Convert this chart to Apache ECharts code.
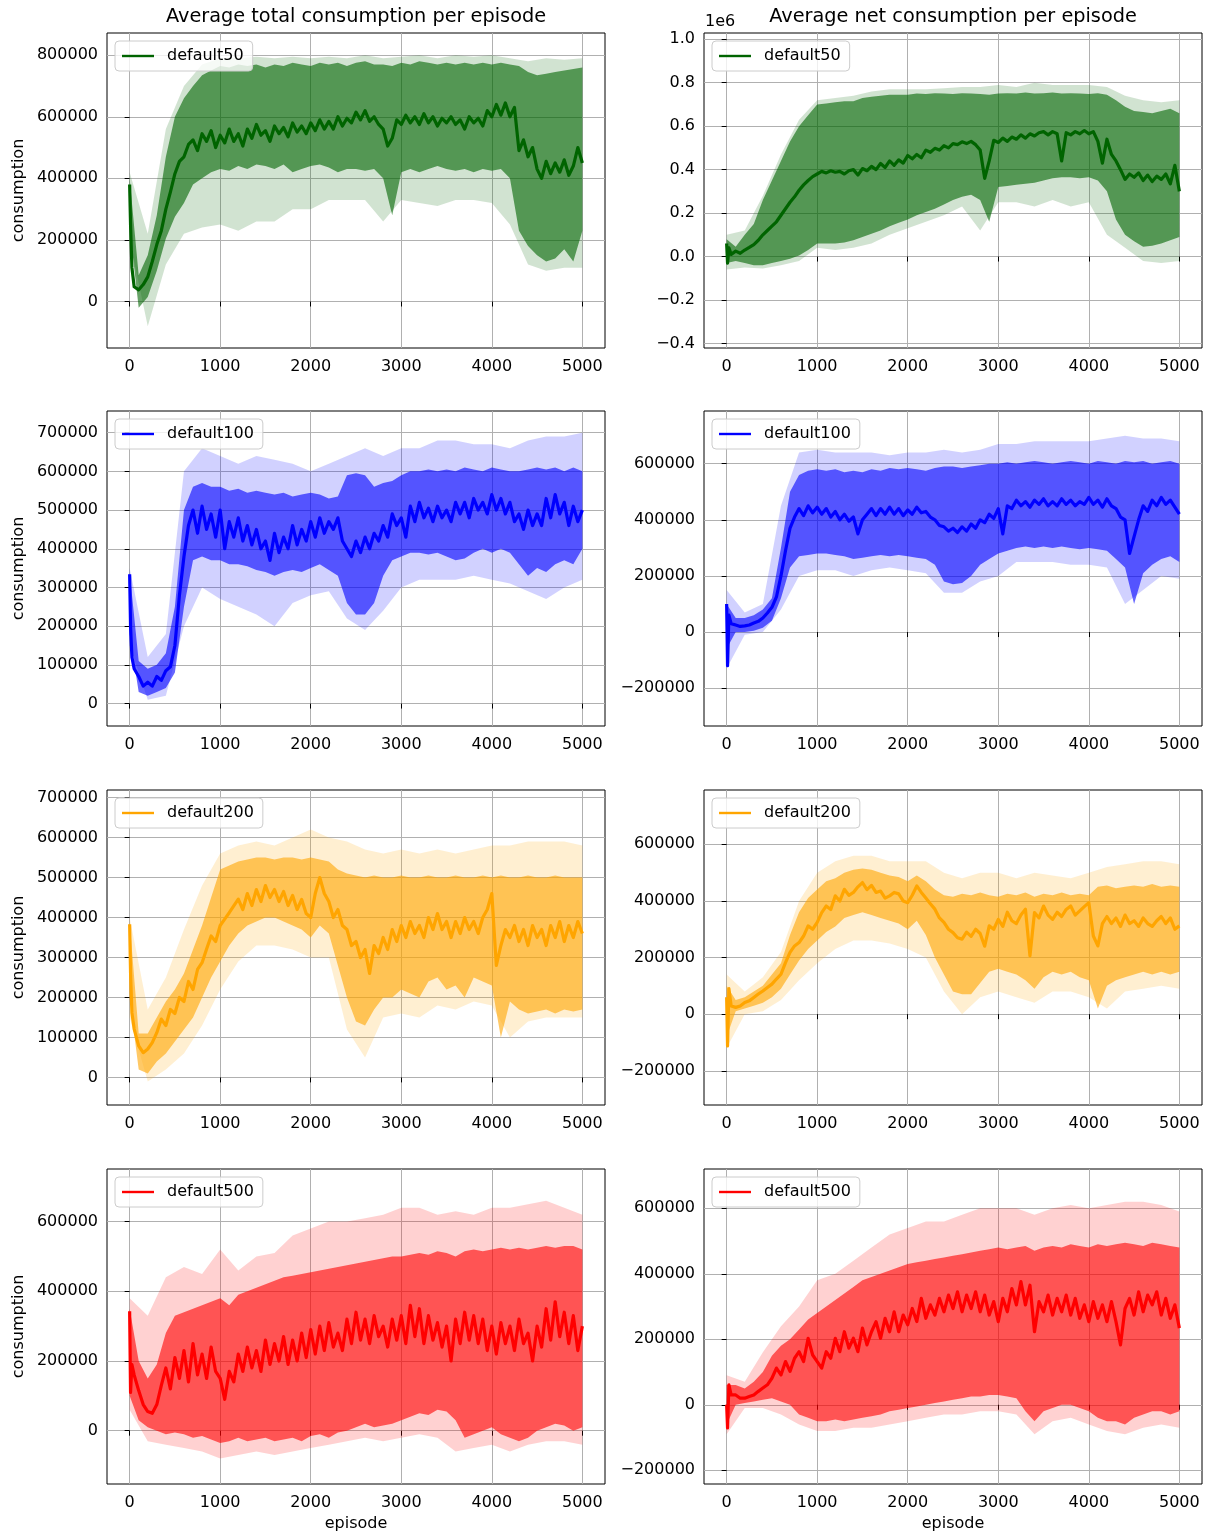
<!DOCTYPE html>
<html>
<head>
<meta charset="utf-8">
<script src="https://cdn.jsdelivr.net/npm/echarts@6/dist/echarts.min.js"></script>
<style>
  html, body { margin: 0; padding: 0; background: #fff; }
  #chart { width: 1214px; height: 1537px; }
</style>
</head>
<body>
<div id="chart"></div>
<script>
// episodes for the mean curves and for the shaded bands
const EP_MEAN = [0, 10, 25, 50, 100, 150, 200, 250, 300, 350, 400, 450, 500, 550, 600, 650, 700, 750, 800, 850, 900, 950, 1000,
  1050, 1100, 1150, 1200, 1250, 1300, 1350, 1400, 1450, 1500, 1550, 1600, 1650, 1700, 1750, 1800, 1850, 1900, 1950, 2000,
  2050, 2100, 2150, 2200, 2250, 2300, 2350, 2400, 2450, 2500, 2550, 2600, 2650, 2700, 2750, 2800, 2850, 2900, 2950, 3000,
  3050, 3100, 3150, 3200, 3250, 3300, 3350, 3400, 3450, 3500, 3550, 3600, 3650, 3700, 3750, 3800, 3850, 3900, 3950, 4000,
  4050, 4100, 4150, 4200, 4250, 4300, 4350, 4400, 4450, 4500, 4550, 4600, 4650, 4700, 4750, 4800, 4850, 4900, 4950, 5000];
const EP_BAND = [0, 100, 200, 300, 400, 500, 600, 700, 800, 900, 1000, 1100, 1200, 1300, 1400, 1500, 1600, 1700, 1800, 1900,
  2000, 2100, 2200, 2300, 2400, 2500, 2600, 2700, 2800, 2900, 3000, 3100, 3200, 3300, 3400, 3500, 3600, 3700, 3800, 3900,
  4000, 4100, 4200, 4300, 4400, 4500, 4600, 4700, 4800, 4900, 5000];
const EP_FAINT = [0, 200, 400, 600, 800, 1000, 1200, 1400, 1600, 1800, 2000, 2200, 2400, 2600, 2800, 3000, 3200, 3400, 3600,
  3800, 4000, 4200, 4400, 4600, 4800, 5000];

// all consumption values below are in thousands
// default50, total
const mean50Total = [380, 250, 110,
  48, 38, 55, 80, 130, 185, 230, 300, 355, 415, 455, 470, 510, 525, 490, 545, 520, 555, 500, 540,
  515, 560, 520, 545, 505, 560, 530, 575, 540, 555, 520, 570, 545, 565, 535, 580, 550, 570, 545, 580,
  555, 590, 560, 585, 560, 600, 570, 595, 580, 615, 590, 620, 585, 600, 575, 560, 505, 530, 590, 575,
  605, 580, 600, 575, 610, 580, 600, 570, 595, 580, 600, 575, 590, 560, 600, 580, 595, 570, 620, 600,
  640, 605, 645, 600, 630, 490, 525, 470, 500, 430, 400, 455, 415, 450, 420, 460, 410, 440, 500, 450];
const hi50Total = [400, 85, 150, 280, 470, 600, 660, 700, 735, 750, 765, 760, 770, 765, 770, 760, 770, 765, 775, 770,
  765, 775, 770, 775, 765, 775, 780, 770, 770, 765, 775, 770, 780, 775, 770, 775, 770, 775, 770, 775,
  770, 775, 770, 765, 745, 735, 740, 745, 750, 755, 760];
const lo50Total = [240, -20, 15, 100, 205, 275, 320, 380, 400, 420, 430, 425, 440, 430, 445, 440, 430, 445, 420, 430,
  440, 445, 435, 420, 430, 430, 425, 430, 400, 280, 420, 430, 420, 430, 440, 430, 425, 430, 420, 430,
  425, 430, 400, 230, 180, 150, 130, 140, 170, 130, 230];
const fhi50Total = [420, 220, 560, 700, 770, 790, 790, 795, 790, 795, 790, 795, 790, 800, 790, 795, 800, 790, 800, 795, 800, 790, 780, 790, 785, 790];
const flo50Total = [200, -80, 120, 220, 240, 250, 230, 260, 260, 300, 300, 330, 330, 330, 260, 330, 320, 310, 330, 330, 320, 250, 120, 100, 110, 110];

// default50, net
const mean50Net = [60, -30, 40,
  10, 25, 15, 30, 42, 55, 75, 100, 120, 140, 160, 190, 220, 250, 275, 305, 330, 350, 368, 380,
  392, 385, 395, 388, 392, 380, 395, 400, 375, 405, 395, 415, 400, 428, 410, 440, 420, 445, 430, 465,
  450, 470, 455, 490, 480, 498, 490, 510, 500, 520, 515, 528, 520, 530, 515, 490, 360, 440, 535, 525,
  545, 530, 550, 540, 560, 545, 565, 555, 570, 575, 560, 575, 565, 440, 570, 560, 575, 565, 580, 565,
  575, 530, 430, 540, 470, 440, 400, 355, 380, 365, 385, 350, 375, 345, 370, 355, 380, 335, 420, 300];
const hi50Net = [80, 45, 100, 150, 260, 350, 440, 530, 600, 650, 700, 705, 710, 715, 715, 730, 735, 740, 745, 745,
  745, 750, 748, 752, 750, 748, 752, 750, 748, 745, 750, 752, 750, 755, 750, 752, 755, 750, 752, 750,
  748, 752, 745, 720, 690, 670, 665, 660, 670, 680, 660];
const lo50Net = [-30, -20, -30, -40, -40, -30, -20, -10, 5, 30, 60, 60, 60, 65, 75, 90, 105, 120, 140, 155,
  170, 190, 205, 220, 240, 260, 275, 285, 260, 160, 320, 325, 330, 335, 340, 350, 360, 365, 365, 360,
  365, 350, 300, 170, 100, 70, 45, 50, 60, 75, 90];
const fhi50Net = [100, 120, 280, 470, 630, 720, 730, 740, 760, 770, 770, 770, 775, 780, 780, 790, 780, 800, 790, 790, 790, 780, 740, 720, 710, 720];
const flo50Net = [-60, -50, -55, -40, -20, 40, 30, 40, 60, 100, 130, 160, 190, 230, 120, 250, 250, 230, 260, 230, 250, 100, 40, -20, -30, -20];

// default100, total
const mean100Total = [334, 200, 120,
  90, 70, 45, 55, 45, 70, 60, 85, 95, 150, 280, 380, 460, 500, 440, 510, 450, 490, 430, 500,
  400, 470, 430, 480, 420, 460, 410, 450, 400, 420, 370, 440, 390, 430, 400, 460, 410, 450, 420, 470,
  430, 480, 440, 470, 450, 480, 420, 400, 380, 420, 390, 430, 400, 440, 420, 460, 430, 490, 460, 480,
  430, 510, 470, 520, 480, 505, 470, 510, 480, 500, 470, 520, 490, 520, 480, 530, 500, 520, 490, 540,
  500, 530, 490, 520, 470, 490, 450, 500, 460, 490, 460, 530, 480, 540, 490, 520, 460, 510, 470, 500];
const hi100Total = [340, 110, 90, 100, 130, 250, 500, 560, 570, 560, 560, 550, 555, 545, 550, 545, 540, 545, 535, 540,
  545, 540, 530, 535, 590, 595, 590, 560, 570, 575, 590, 600, 600, 605, 600, 605, 600, 610, 605, 600,
  610, 605, 600, 600, 605, 610, 605, 610, 600, 610, 600];
const lo100Total = [180, 30, 20, 30, 40, 80, 250, 370, 380, 370, 370, 360, 360, 355, 345, 340, 330, 340, 345, 340,
  350, 360, 345, 330, 260, 230, 230, 260, 330, 370, 380, 390, 390, 385, 390, 380, 370, 375, 390, 400,
  390, 400, 390, 360, 330, 350, 340, 360, 370, 360, 400];
const fhi100Total = [350, 120, 180, 600, 660, 640, 620, 640, 630, 620, 600, 620, 640, 660, 640, 660, 660, 680, 680, 670, 670, 660, 680, 690, 690, 700];
const flo100Total = [150, 10, 20, 200, 300, 270, 250, 230, 200, 260, 280, 290, 220, 190, 240, 300, 320, 320, 320, 330, 320, 310, 290, 270, 300, 320];

// default100, net
const mean100Net = [100, -120, 60,
  30, 25, 20, 22, 25, 32, 38, 50, 68, 88, 125, 200, 290, 370, 410, 440, 415, 450, 425, 445,
  420, 440, 410, 430, 400, 420, 395, 410, 350, 400, 420, 440, 415, 440, 420, 445, 420, 440, 415, 435,
  420, 445, 425, 430, 410, 400, 380, 375, 360, 370, 355, 375, 360, 385, 370, 400, 390, 420, 405, 440,
  350, 450, 440, 470, 450, 465, 445, 470, 455, 475, 450, 465, 450, 475, 455, 470, 450, 465, 455, 480,
  455, 470, 445, 475, 450, 440, 410, 400, 280, 340, 400, 450, 430, 470, 450, 480, 455, 470, 445, 420];
const hi100Net = [100, 50, 50, 60, 80, 120, 300, 500, 560, 575, 580, 575, 580, 570, 575, 570, 580, 575, 585, 580,
  585, 580, 575, 585, 590, 590, 585, 590, 595, 600, 600, 605, 600, 605, 610, 605, 600, 605, 610, 605,
  600, 610, 605, 600, 610, 605, 610, 600, 605, 610, 600];
const lo100Net = [-60, 0, 0, 5, 15, 40, 120, 230, 270, 275, 280, 280, 275, 270, 260, 265, 270, 275, 270, 275,
  270, 265, 260, 240, 180, 170, 175, 200, 240, 260, 280, 290, 300, 305, 300, 305, 300, 305, 300, 295,
  300, 295, 290, 260, 230, 100, 210, 240, 260, 270, 250];
const fhi100Net = [150, 70, 100, 450, 640, 650, 640, 640, 640, 630, 640, 640, 650, 640, 650, 670, 670, 680, 680, 680, 680, 690, 700, 690, 690, 680];
const flo100Net = [-130, -10, 0, 80, 200, 220, 220, 200, 220, 230, 220, 210, 140, 140, 180, 200, 250, 250, 250, 240, 240, 230, 100, 150, 200, 190];

// default200, total
const mean200Total = [383, 262, 162,
  121, 79, 62, 71, 87, 112, 146, 130, 170, 160, 200, 190, 240, 220, 270, 287, 321, 354, 340, 380,
  396, 412, 429, 446, 420, 460, 430, 470, 440, 480, 450, 470, 440, 465, 430, 455, 420, 445, 410, 400,
  460, 500, 460, 440, 400, 420, 380, 370, 330, 340, 300, 320, 260, 330, 310, 350, 320, 370, 340, 380,
  350, 390, 360, 380, 350, 400, 370, 410, 370, 390, 350, 390, 360, 400, 370, 390, 360, 400, 420, 460,
  280, 330, 370, 350, 380, 340, 370, 330, 380, 350, 370, 330, 380, 350, 390, 340, 380, 350, 390, 360];
const hi200Total = [390, 110, 110, 150, 190, 220, 260, 320, 380, 450, 520, 530, 540, 545, 550, 550, 545, 550, 550, 545,
  550, 545, 540, 520, 510, 505, 500, 505, 500, 500, 505, 500, 500, 505, 500, 500, 505, 500, 500, 505,
  500, 505, 500, 500, 505, 500, 500, 505, 500, 500, 500];
const lo200Total = [200, 20, 10, 40, 60, 90, 120, 150, 200, 250, 290, 330, 360, 380, 390, 400, 400, 390, 380, 370,
  350, 380, 360, 280, 200, 140, 130, 170, 200, 200, 220, 210, 200, 240, 250, 220, 230, 200, 250, 240,
  230, 100, 190, 170, 160, 165, 170, 160, 170, 165, 170];
const fhi200Total = [400, 170, 250, 370, 480, 560, 580, 590, 580, 600, 620, 600, 590, 570, 560, 570, 560, 570, 560, 570, 580, 580, 590, 590, 590, 580];
const flo200Total = [150, -10, 20, 60, 130, 220, 290, 330, 330, 320, 300, 300, 120, 50, 150, 160, 150, 180, 170, 190, 180, 100, 140, 150, 150, 150];

// default200, net
const mean200Net = [60, -112, 90,
  29, 24, 29, 41, 47, 59, 71, 82, 94, 106, 124, 141, 182, 218, 241, 253, 276, 312, 300, 324,
  359, 382, 370, 418, 400, 441, 420, 430, 450, 465, 440, 455, 430, 435, 410, 418, 430, 425, 400, 394,
  420, 453, 430, 410, 390, 371, 340, 324, 300, 288, 270, 265, 290, 275, 300, 285, 240, 312, 300, 335,
  310, 360, 330, 320, 350, 371, 206, 359, 340, 382, 350, 335, 360, 345, 370, 382, 350, 365, 380, 394,
  276, 241, 320, 345, 320, 340, 310, 350, 320, 330, 310, 340, 320, 310, 330, 345, 320, 340, 300, 312];
const hi200Net = [100, 50, 60, 80, 100, 140, 180, 280, 360, 410, 440, 470, 480, 500, 510, 515, 510, 500, 490, 485,
  470, 490, 470, 440, 420, 415, 425, 420, 430, 420, 415, 425, 420, 430, 415, 425, 420, 430, 420, 425,
  420, 450, 455, 445, 450, 455, 450, 460, 450, 455, 450];
const lo200Net = [-80, 10, 20, 30, 40, 60, 90, 140, 190, 230, 260, 290, 310, 340, 350, 360, 350, 340, 330, 320,
  300, 330, 280, 200, 140, 80, 70, 70, 110, 150, 160, 150, 140, 120, 90, 130, 150, 140, 150, 130,
  120, 20, 100, 120, 130, 140, 150, 140, 150, 140, 150];
const fhi200Net = [140, 80, 130, 220, 400, 500, 540, 560, 560, 540, 540, 540, 500, 480, 500, 500, 480, 500, 490, 480, 500, 520, 530, 540, 540, 530];
const flo200Net = [-120, 0, 10, 50, 120, 180, 230, 260, 260, 250, 230, 200, 80, 0, 60, 80, 60, 40, 80, 80, 60, 20, 80, 90, 100, 90];

// default500, total
const mean500Total = [343, 110, 190,
  160, 115, 75, 55, 50, 75, 130, 180, 120, 210, 150, 230, 140, 250, 160, 220, 150, 240, 170, 150,
  90, 170, 140, 220, 170, 240, 180, 230, 170, 260, 190, 250, 200, 270, 190, 260, 200, 280, 210, 290,
  220, 300, 230, 310, 240, 280, 230, 320, 250, 340, 260, 320, 250, 330, 270, 300, 240, 320, 260, 330,
  250, 360, 270, 350, 250, 330, 260, 310, 240, 300, 200, 320, 250, 340, 260, 330, 250, 320, 230, 300,
  220, 310, 250, 300, 230, 320, 250, 280, 200, 300, 240, 350, 260, 370, 270, 340, 250, 330, 230, 300];
const hi500Total = [350, 200, 150, 190, 280, 330, 340, 350, 360, 370, 380, 360, 390, 400, 410, 420, 430, 440, 445, 450,
  455, 460, 465, 470, 475, 480, 485, 490, 495, 500, 500, 505, 510, 505, 515, 510, 500, 515, 520, 515,
  520, 525, 520, 525, 520, 525, 530, 525, 530, 530, 520];
const lo500Total = [100, 30, 10, 0, -10, -5, -10, -20, -15, -25, -35, -30, -20, -30, -25, -20, -30, -25, -20, -30,
  -15, -10, -20, -5, 0, 10, 20, 10, 15, 20, 30, 40, 50, 45, 60, 55, 30, -20, -10, 0,
  10, -10, -20, -30, -20, 0, 10, 20, 15, 0, 10];
const fhi500Total = [380, 330, 440, 470, 450, 520, 460, 500, 510, 560, 580, 600, 600, 610, 620, 640, 640, 620, 630, 620, 640, 640, 650, 660, 640, 620];
const flo500Total = [60, -30, -40, -50, -60, -80, -70, -60, -70, -60, -50, -40, -30, -20, -30, -20, -10, -20, -60, -50, -40, -60, -40, -30, -30, -40];

// default500, net
const mean500Net = [0, -71, 61,
  30, 30, 20, 20, 25, 30, 41, 51, 61, 81, 112, 91, 132, 102, 142, 162, 132, 203, 152, 132,
  112, 162, 142, 203, 162, 223, 173, 203, 162, 234, 183, 223, 254, 203, 264, 223, 284, 223, 274, 244,
  294, 254, 325, 264, 305, 274, 325, 284, 335, 294, 345, 284, 335, 294, 345, 284, 335, 274, 315, 254,
  325, 284, 355, 305, 376, 305, 365, 223, 315, 284, 335, 274, 325, 284, 335, 274, 325, 264, 305, 254,
  315, 264, 305, 254, 315, 254, 183, 294, 325, 274, 345, 284, 335, 305, 345, 274, 325, 264, 305, 234];
const hi500Net = [60, 60, 50, 70, 100, 150, 180, 200, 230, 260, 280, 300, 320, 340, 360, 380, 390, 400, 410, 420,
  430, 435, 440, 445, 450, 455, 460, 465, 470, 475, 480, 475, 480, 485, 470, 480, 485, 480, 490, 485,
  480, 490, 485, 490, 495, 490, 485, 495, 490, 485, 480];
const lo500Net = [-60, 0, 5, 10, 15, 20, 10, 0, -30, -40, -50, -50, -45, -50, -45, -40, -35, -30, -20, -15,
  -10, -5, 0, 5, 10, 15, 20, 25, 25, 30, 30, 25, 20, -20, -50, -20, -10, 0, 0, -10,
  -20, -40, -50, -50, -60, -40, -30, -20, -20, -30, -20];
const fhi500Net = [90, 70, 160, 240, 300, 380, 400, 440, 480, 520, 540, 560, 560, 580, 600, 600, 600, 580, 600, 610, 600, 610, 620, 620, 610, 590];
const flo500Net = [-90, -10, -10, -30, -60, -80, -80, -70, -70, -60, -50, -40, -30, -30, -20, -20, -30, -90, -50, -40, -60, -80, -90, -70, -60, -70];

// tick labels
const X_TICKS = [0, 1000, 2000, 3000, 4000, 5000];
const Y_TICKS_800 = [0, 200000, 400000, 600000, 800000];
const Y_TICKS_1E6 = [-400000, -200000, 0, 200000, 400000, 600000, 800000, 1000000];
const Y_TICKS_700 = [0, 100000, 200000, 300000, 400000, 500000, 600000, 700000];
const Y_TICKS_NET = [-200000, 0, 200000, 400000, 600000];
const Y_TICKS_600 = [0, 200000, 400000, 600000];

const TITLES = ['Average total consumption per episode', 'Average net consumption per episode'];

const panels = [
  { name: 'default50', color: '#006400', rgb: '0,100,0', col: 0, row: 0, mean: mean50Total, hi: hi50Total, lo: lo50Total, fhi: fhi50Total, flo: flo50Total, min: -151000, max: 872000, ticks: Y_TICKS_800 },
  { name: 'default50', color: '#006400', rgb: '0,100,0', col: 1, row: 0, mean: mean50Net, hi: hi50Net, lo: lo50Net, fhi: fhi50Net, flo: flo50Net, min: -421000, max: 1029000, ticks: Y_TICKS_1E6, sci: true },
  { name: 'default100', color: '#0000ff', rgb: '0,0,255', col: 0, row: 1, mean: mean100Total, hi: hi100Total, lo: lo100Total, fhi: fhi100Total, flo: flo100Total, min: -58000, max: 756000, ticks: Y_TICKS_700 },
  { name: 'default100', color: '#0000ff', rgb: '0,0,255', col: 1, row: 1, mean: mean100Net, hi: hi100Net, lo: lo100Net, fhi: fhi100Net, flo: flo100Net, min: -335000, max: 788000, ticks: Y_TICKS_NET },
  { name: 'default200', color: '#ffa500', rgb: '255,165,0', col: 0, row: 2, mean: mean200Total, hi: hi200Total, lo: lo200Total, fhi: fhi200Total, flo: flo200Total, min: -69000, max: 719000, ticks: Y_TICKS_700 },
  { name: 'default200', color: '#ffa500', rgb: '255,165,0', col: 1, row: 2, mean: mean200Net, hi: hi200Net, lo: lo200Net, fhi: fhi200Net, flo: flo200Net, min: -321000, max: 792000, ticks: Y_TICKS_NET },
  { name: 'default500', color: '#ff0000', rgb: '255,0,0', col: 0, row: 3, mean: mean500Total, hi: hi500Total, lo: lo500Total, fhi: fhi500Total, flo: flo500Total, min: -153000, max: 751000, ticks: Y_TICKS_600 },
  { name: 'default500', color: '#ff0000', rgb: '255,0,0', col: 1, row: 3, mean: mean500Net, hi: hi500Net, lo: lo500Net, fhi: fhi500Net, flo: flo500Net, min: -242000, max: 720000, ticks: Y_TICKS_NET }
];

const FONT = 'DejaVu Sans';
const GRID_LEFT = [107, 704];
const GRID_TOP = [33, 411, 790, 1169];
const GRID_W = 498;
const GRID_H = 315;

function minus(s) {
  return s.replace('-', '\u2212');
}

// filled polygon between lo and hi, drawn through the axis scales
function band(i, ep, lo, hi, rgb, alpha, z) {
  return {
    type: 'custom',
    xAxisIndex: i,
    yAxisIndex: i,
    silent: true,
    clip: true,
    z: z,
    data: [[ep[0], lo[0] * 1000]],
    renderItem: function (params, api) {
      const pts = [];
      for (let k = 0; k < ep.length; k++) pts.push(api.coord([ep[k], hi[k] * 1000]));
      for (let k = ep.length - 1; k >= 0; k--) pts.push(api.coord([ep[k], lo[k] * 1000]));
      return { type: 'polygon', shape: { points: pts }, style: { fill: 'rgba(' + rgb + ',' + alpha + ')' } };
    }
  };
}

const grid = [], xAxis = [], yAxis = [], series = [], legend = [];

panels.forEach(function (p, i) {
  grid.push({
    left: GRID_LEFT[p.col], top: GRID_TOP[p.row], width: GRID_W, height: GRID_H,
    show: true, borderColor: '#000', borderWidth: 1, backgroundColor: 'transparent',
    outerBoundsMode: 'none'
  });
  xAxis.push({
    gridIndex: i, type: 'value', min: -250, max: 5250,
    axisLine: { show: false },
    axisTick: { show: true, length: 5, lineStyle: { color: '#000' }, customValues: X_TICKS },
    axisLabel: {
      customValues: X_TICKS, color: '#000', fontSize: 16, fontFamily: FONT, margin: 11,
      formatter: function (v) { return String(v); }
    },
    splitLine: { show: true, lineStyle: { color: '#b0b0b0', width: 1 } },
    name: p.row === 3 ? 'episode' : '',
    nameLocation: 'middle', nameGap: 32,
    nameTextStyle: { color: '#000', fontSize: 16, fontFamily: FONT }
  });
  yAxis.push({
    gridIndex: i, type: 'value', min: p.min, max: p.max,
    axisLine: { show: false },
    axisTick: { show: true, length: 5, lineStyle: { color: '#000' }, customValues: p.ticks },
    axisLabel: {
      customValues: p.ticks, color: '#000', fontSize: 16, fontFamily: FONT, margin: 9,
      formatter: function (v) {
        return p.sci ? minus((v / 1e6).toFixed(1)) : minus(String(Math.round(v)));
      }
    },
    splitLine: { show: true, lineStyle: { color: '#b0b0b0', width: 1 } },
    name: p.col === 0 ? 'consumption' : '',
    nameLocation: 'middle', nameGap: 80,
    nameTextStyle: { color: '#000', fontSize: 16, fontFamily: FONT }
  });

  series.push(band(i, EP_FAINT, p.flo, p.fhi, p.rgb, 0.18, 1));
  series.push(band(i, EP_BAND, p.lo, p.hi, p.rgb, 0.6, 2));
  series.push({
    type: 'line', name: p.name, xAxisIndex: i, yAxisIndex: i,
    data: EP_MEAN.map(function (e, k) { return [e, p.mean[k] * 1000]; }),
    symbol: 'none', showSymbol: false, z: 3,
    lineStyle: { color: p.color, width: 3.2, join: 'round' },
    itemStyle: { color: p.color }
  });

  legend.push({
    data: [p.name], selectedMode: false,
    left: GRID_LEFT[p.col] + 8, top: GRID_TOP[p.row] + 8,
    icon: 'rect', itemWidth: 32, itemHeight: 2.4,
    padding: [7, 9, 7, 7],
    borderColor: '#cccccc', borderWidth: 1, borderRadius: 4,
    backgroundColor: 'rgba(255,255,255,0.8)',
    textStyle: { color: '#000', fontSize: 16, fontFamily: FONT, padding: [0, 0, 0, 8] }
  });
});

const chart = echarts.init(document.getElementById('chart'), null, { renderer: 'canvas' });
chart.setOption({
  animation: false,
  backgroundColor: '#fff',
  grid: grid,
  xAxis: xAxis,
  yAxis: yAxis,
  legend: legend,
  series: series,
  graphic: [
    { type: 'text', x: GRID_LEFT[0] + GRID_W / 2, y: 17, style: { text: TITLES[0], align: 'center', verticalAlign: 'middle', fontSize: 19.3, fontFamily: FONT, fill: '#000' } },
    { type: 'text', x: GRID_LEFT[1] + GRID_W / 2, y: 17, style: { text: TITLES[1], align: 'center', verticalAlign: 'middle', fontSize: 19.3, fontFamily: FONT, fill: '#000' } },
    { type: 'text', x: GRID_LEFT[1] + 1, y: 22, style: { text: '1e6', align: 'left', verticalAlign: 'middle', fontSize: 16, fontFamily: FONT, fill: '#000' } }
  ]
});
</script>
</body>
</html>
